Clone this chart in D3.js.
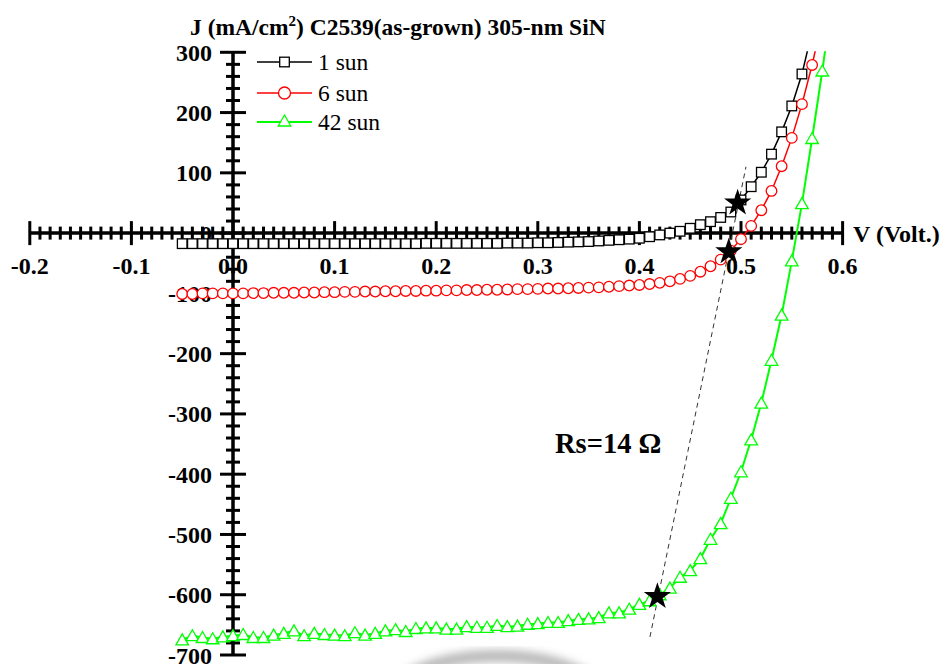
<!DOCTYPE html>
<html>
<head>
<meta charset="utf-8">
<script src="https://cdn.jsdelivr.net/npm/d3@7"></script>
<style>
  html, body { margin: 0; padding: 0; background: #fff; }
  svg { display: block; }
  text { font-family: "Liberation Serif", "Times New Roman", serif; }
</style>
</head>
<body>
<svg id="chart" width="944" height="664"></svg>
<script>
// ---------------- data ----------------
const voltages = [-0.05,-0.04,-0.03,-0.02,-0.01,0.00,0.01,0.02,0.03,0.04,0.05,0.06,0.07,0.08,0.09,
  0.10,0.11,0.12,0.13,0.14,0.15,0.16,0.17,0.18,0.19,0.20,0.21,0.22,0.23,0.24,0.25,0.26,0.27,0.28,0.29,
  0.30,0.31,0.32,0.33,0.34,0.35,0.36,0.37,0.38,0.39,0.40,0.41,0.42,0.43,0.44,0.45,0.46,0.47,0.48,0.49,
  0.50,0.51,0.52,0.53,0.54,0.55,0.56,0.57,0.58,0.59];

const sun1 = [-17.5,-17.5,-17.5,-17.5,-17.5,-17.5,-17.5,-17.5,-17.5,-17.5,-17.5,-17.5,-17.5,-17.5,-17.5,
  -17.5,-17.5,-17.5,-17.5,-17.5,-17.5,-17.5,-17.5,-17.5,-17,-17,-17,-17,-17,-17,-17,-17,-16.5,-16.5,-16.5,
  -16,-16,-15.5,-15,-14.5,-14,-13,-12,-11,-10,-8.5,-6,-3,0,3,8,14,19,26,35,
  55,77,101,131,168,211,264,335];

const sun6 = [-101,-101,-100,-100,-100,-100,-100,-99.5,-99.5,-99,-99,-99,-98.5,-98.5,-98,
  -98,-97.5,-97.5,-97,-97,-96.5,-96.5,-96,-96,-95.5,-95.5,-95,-95,-94.5,-94.5,-94,-94,-93.5,-93,-93,
  -92.5,-92,-92,-91.5,-91,-90.5,-90,-89,-88,-87,-86,-84.5,-82.5,-80,-76,-71,-64,-55,-44,-29,
  -10,12,38,70,111,158,214,279,355];

const sun42 = [-675,-668,-671,-673,-670,-668,-666,-671,-671,-667,-664,-660,-668,-664,-666,
  -667,-668,-663,-667,-664,-660,-658,-661,-656,-655,-655,-657,-657,-653,-654,-654,-651,-653,-652,-649,
  -648,-646,-646,-643,-641,-640,-638,-630,-630,-624,-616,-610,-600,-589,-571,-560,-540,-508,-482,-440,
  -396,-343,-282,-211,-136,-46,49,157,269,390];

const seriesNames = ["1 sun", "6 sun", "42 sun"];
const seriesColors = ["#000000", "#ff0000", "#00ff00"];

// points where the series-resistance line touches each curve
const starV = [0.4967, 0.488, 0.4177];
const starJ = [50, -31, -603];
// dashed Rs line end points
const rsLineV = [0.4104, 0.5049];
const rsLineJ = [-670, 110];

const xMajor = [-0.2,-0.1,0.0,0.1,0.2,0.3,0.4,0.5,0.6];
const xLabels = ["-0.2","-0.1","0.0","0.1","0.2","0.3","0.4","0.5","0.6"];
const yMajor = [-700,-600,-500,-400,-300,-200,-100,0,100,200,300];
const yLabels = ["-700","-600","-500","-400","-300","-200","-100","0","100","200","300"];

// ---------------- drawing ----------------
const svg = d3.select("#chart");
const x = d3.scaleLinear().domain([-0.2, 0.6]).range([29.8, 842.6]);
const y = d3.scaleLinear().domain([-700, 300]).range([655, 52.3]);

const defs = svg.append("defs");
defs.append("filter").attr("id", "blur").append("feGaussianBlur").attr("stdDeviation", 4);
defs.append("clipPath").attr("id", "plotclip").append("rect")
  .attr("x", 0).attr("y", y(300) - 1).attr("width", 944).attr("height", 700);

// faint scan artefact at bottom
svg.append("ellipse").attr("cx", 497).attr("cy", 702).attr("rx", 108).attr("ry", 46)
  .attr("fill", "none").attr("stroke", "#b8b8b8").attr("stroke-width", 12)
  .attr("filter", "url(#blur)");

const axisG = svg.append("g");
const x0 = x(0), y0 = y(0);

// Y axis
axisG.append("line").attr("x1", x0).attr("x2", x0).attr("y1", y(300)).attr("y2", y(-700))
  .attr("stroke", "#000").attr("stroke-width", 3.5);
const yMinor = d3.range(-700, 301, 20).filter(v => v % 100 !== 0);
axisG.selectAll(".ymin").data(yMinor).join("line")
  .attr("x1", x0 - 7).attr("x2", x0 + 7).attr("y1", d => y(d)).attr("y2", d => y(d))
  .attr("stroke", "#000").attr("stroke-width", 3);
axisG.selectAll(".ymaj").data(yMajor).join("line")
  .attr("x1", x0 - 13).attr("x2", x0 + 13).attr("y1", d => y(d)).attr("y2", d => y(d))
  .attr("stroke", "#000").attr("stroke-width", 3);
axisG.selectAll(".ylab").data(yMajor).join("text")
  .attr("x", 212).attr("y", d => y(d) + 8.5)
  .attr("text-anchor", "end").attr("font-size", 24).attr("font-weight", "bold")
  .text((d, i) => yLabels[i]);

// X axis
axisG.append("line").attr("x1", x(-0.2)).attr("x2", x(0.6)).attr("y1", y0).attr("y2", y0)
  .attr("stroke", "#000").attr("stroke-width", 3.5);
const xMinor = d3.range(-20, 61, 1).filter(v => v % 10 !== 0).map(v => v / 100);
axisG.selectAll(".xmin").data(xMinor).join("line")
  .attr("x1", d => x(d)).attr("x2", d => x(d)).attr("y1", y0 - 6.5).attr("y2", y0 + 6.5)
  .attr("stroke", "#000").attr("stroke-width", 3);
axisG.selectAll(".xmaj").data(xMajor).join("line")
  .attr("x1", d => x(d)).attr("x2", d => x(d)).attr("y1", y0 - 12).attr("y2", y0 + 12)
  .attr("stroke", "#000").attr("stroke-width", 3);
axisG.selectAll(".xlab").data(xMajor).join("text")
  .attr("x", d => x(d)).attr("y", 274)
  .attr("text-anchor", "middle").attr("font-size", 24).attr("font-weight", "bold")
  .text((d, i) => xLabels[i]);

// axis titles
axisG.append("text").attr("x", 853).attr("y", y0 + 8.5).attr("font-size", 24).attr("font-weight", "bold")
  .text("V (Volt.)");
const title = axisG.append("text").attr("x", 190).attr("y", 35).attr("font-size", 23.5).attr("font-weight", "bold");
title.append("tspan").text("J (mA/cm");
title.append("tspan").attr("dy", -9).attr("font-size", 15).text("2");
title.append("tspan").attr("dy", 9).text(") C2539(as-grown) 305-nm SiN");

// Rs annotation
svg.append("text").attr("x", 555).attr("y", 453).attr("font-size", 28.5).attr("font-weight", "bold")
  .text("Rs=14 \u03A9");

// dashed Rs line
svg.append("line")
  .attr("x1", x(rsLineV[0])).attr("y1", y(rsLineJ[0]))
  .attr("x2", x(rsLineV[1])).attr("y2", y(rsLineJ[1]))
  .attr("stroke", "#333").attr("stroke-width", 1).attr("stroke-dasharray", "5,4");

// markers
const triPath = "M0,-6L6.3,5L-6.3,5Z";
function drawMarker(g, kind, color, size) {
  if (kind === 0) {
    g.append("rect").attr("x", -size).attr("y", -size).attr("width", 2 * size).attr("height", 2 * size)
      .attr("fill", "#fff").attr("stroke", color).attr("stroke-width", 1.3);
  } else if (kind === 1) {
    g.append("circle").attr("r", size).attr("fill", "#fff").attr("stroke", color).attr("stroke-width", 1.3);
  } else {
    g.append("path").attr("d", triPath).attr("fill", "#fff").attr("stroke", color).attr("stroke-width", 1.3);
  }
}

const allSeries = [sun1, sun6, sun42];
const lineW = [1.5, 1.5, 2];
const markerSize = [4.8, 5.3, 6];
const plotG = svg.append("g").attr("clip-path", "url(#plotclip)");
const line = d3.line().x(d => x(d[0])).y(d => y(d[1]));

allSeries.forEach((vals, si) => {
  const pts = vals.map((j, i) => [voltages[i], j]);
  plotG.append("path").datum(pts).attr("d", line)
    .attr("fill", "none").attr("stroke", seriesColors[si]).attr("stroke-width", lineW[si]);
  pts.filter(p => p[1] <= 300).forEach(p => {
    const g = plotG.append("g").attr("transform", `translate(${x(p[0])},${y(p[1])})`);
    drawMarker(g, si, seriesColors[si], markerSize[si]);
  });
});

// stars
const star = d3.symbol().type(d3.symbolStar).size(230);
svg.selectAll(".star").data(starV).join("path")
  .attr("d", star)
  .attr("transform", (d, i) => `translate(${x(d)},${y(starJ[i])})`)
  .attr("fill", "#000");

// legend
const legY = [62, 93, 122];
seriesNames.forEach((name, si) => {
  const lg = svg.append("g");
  lg.append("line").attr("x1", 257).attr("x2", 312).attr("y1", legY[si]).attr("y2", legY[si])
    .attr("stroke", seriesColors[si]).attr("stroke-width", lineW[si]);
  const mg = lg.append("g").attr("transform", `translate(284.5,${legY[si] - (si === 2 ? 1 : 0)})`);
  drawMarker(mg, si, seriesColors[si], si === 1 ? 6 : markerSize[si]);
  lg.append("text").attr("x", 318).attr("y", legY[si] + 8).attr("font-size", 23.5).text(name);
});
</script>
</body>
</html>
